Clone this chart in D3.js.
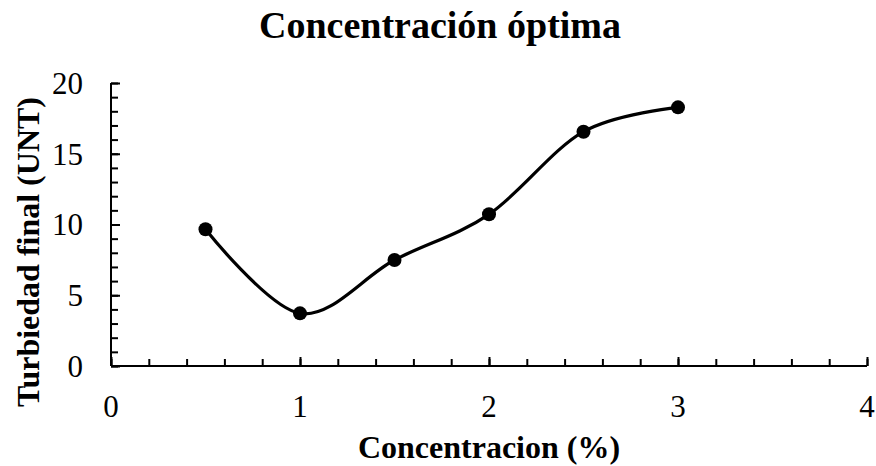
<!DOCTYPE html>
<html>
<head>
<meta charset="utf-8">
<script src="https://d3js.org/d3.v7.min.js"></script>
<style>
  body { margin: 0; background: white; }
  svg text { font-family: "Liberation Serif", "Times New Roman", serif; fill: black; }
</style>
</head>
<body>
<div id="chart"></div>
<script>
// data
var concentracion = [0.5, 1, 1.5, 2, 2.5, 3];
var turbiedad = [9.66, 3.72, 7.49, 10.72, 16.56, 18.28];
var xTicks = [0, 1, 2, 3, 4];
var yTicks = [0, 5, 10, 15, 20];

var width = 876, height = 466;
var margin = { top: 83, right: 9, bottom: 100, left: 111 };

var svg = d3.select("#chart").append("svg")
  .attr("width", width)
  .attr("height", height);

var x = d3.scaleLinear().domain([0, 4]).range([margin.left, width - margin.right]);
var y = d3.scaleLinear().domain([0, 20]).range([height - margin.bottom, margin.top]);

// title
svg.append("text")
  .attr("x", 440)
  .attr("y", 38)
  .attr("text-anchor", "middle")
  .style("font-size", "38px")
  .style("font-weight", "bold")
  .text("Concentración óptima");

// x axis: minor ticks every 0.2, major at integers, pointing up
var xMinor = svg.append("g").attr("transform", `translate(0,${y(0)})`)
  .call(d3.axisTop(x).tickValues(d3.range(0, 4.001, 0.2)).tickSize(7).tickFormat(""));
var xMajor = svg.append("g").attr("transform", `translate(0,${y(0)})`)
  .call(d3.axisTop(x).tickValues(xTicks).tickSize(9).tickFormat(""));
svg.selectAll("g").selectAll("path, line").attr("stroke", "black").attr("stroke-width", 2);
xMinor.select(".domain").attr("d", `M${x(0)},0H${x(4)}`);
xMajor.select(".domain").remove();

svg.append("g").selectAll("text")
  .data(xTicks)
  .join("text")
  .attr("x", d => x(d))
  .attr("y", y(0) + 51)
  .attr("text-anchor", "middle")
  .style("font-size", "31px")
  .text(d => d);

// y axis: minor ticks every 1, major every 5, pointing right
var yMinor = svg.append("g").attr("transform", `translate(${x(0)},0)`)
  .call(d3.axisRight(y).tickValues(d3.range(0, 21, 1)).tickSize(7).tickFormat(""));
var yMajor = svg.append("g").attr("transform", `translate(${x(0)},0)`)
  .call(d3.axisRight(y).tickValues(yTicks).tickSize(9).tickFormat(""));
yMinor.selectAll("path, line").attr("stroke", "black").attr("stroke-width", 2);
yMajor.selectAll("line").attr("stroke", "black").attr("stroke-width", 2);
yMinor.select(".domain").attr("d", `M0,${y(0)}V${y(20)}`);
yMajor.select(".domain").remove();

svg.append("g").selectAll("text")
  .data(yTicks)
  .join("text")
  .attr("x", x(0) - 28)
  .attr("y", d => y(d))
  .attr("dy", "0.35em")
  .attr("text-anchor", "end")
  .style("font-size", "31px")
  .text(d => d);

// axis titles
svg.append("text")
  .attr("x", (x(0) + x(4)) / 2)
  .attr("y", 458)
  .attr("text-anchor", "middle")
  .style("font-size", "32px")
  .style("font-weight", "bold")
  .text("Concentracion (%)");

svg.append("text")
  .attr("transform", "translate(39,252) rotate(-90)")
  .attr("text-anchor", "middle")
  .style("font-size", "32px")
  .style("font-weight", "bold")
  .text("Turbiedad final (UNT)");

// smoothed line and markers
var pts = concentracion.map((c, i) => [c, turbiedad[i]]);
var line = d3.line()
  .x(d => x(d[0]))
  .y(d => y(d[1]))
  .curve(d3.curveCatmullRom.alpha(0));

svg.append("path")
  .datum(pts)
  .attr("d", line)
  .attr("fill", "none")
  .attr("stroke", "black")
  .attr("stroke-width", 3.2);

svg.append("g").selectAll("circle")
  .data(pts)
  .join("circle")
  .attr("cx", d => x(d[0]))
  .attr("cy", d => y(d[1]))
  .attr("r", 7)
  .attr("fill", "black");
</script>
</body>
</html>
